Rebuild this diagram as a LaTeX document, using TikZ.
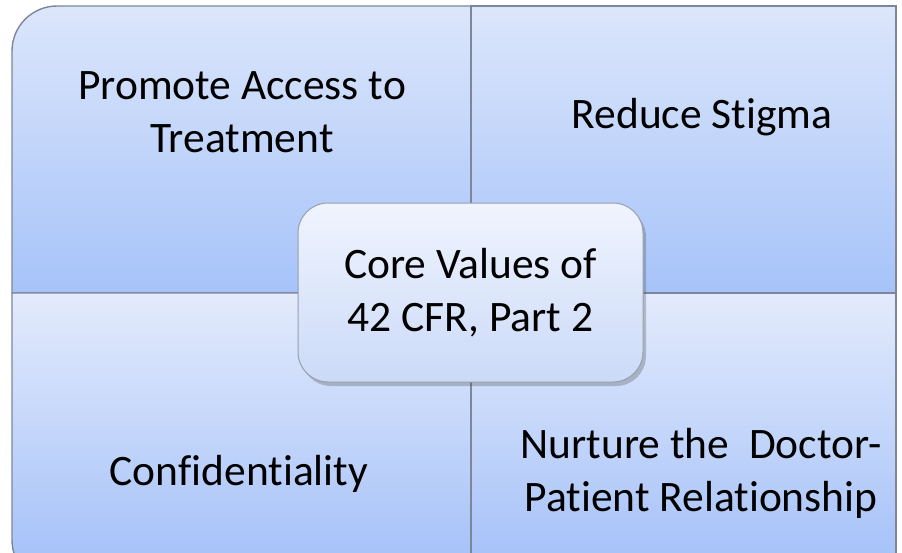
\documentclass[tikz,border=0pt]{standalone}
\usepackage{fontspec}
\setmainfont{Carlito}[Ligatures=CommonOff]
\usetikzlibrary{shadows}
\definecolor{qtoptop}{HTML}{DCE6FB}
\definecolor{qtopbot}{HTML}{A6C3F9}
\definecolor{qbottop}{HTML}{E3EBFC}
\definecolor{qbotbot}{HTML}{A0BEF8}
\definecolor{coretop}{HTML}{F0F4FE}
\definecolor{corebot}{HTML}{CBDAF8}
\definecolor{edgegray}{HTML}{7D8799}
\begin{document}
\begin{tikzpicture}[x=1pt,y=-1pt,
  quadtop/.style={draw=edgegray,line width=1.4pt,top color=qtoptop,bottom color=qtopbot},
  quadbot/.style={draw=edgegray,line width=1.4pt,top color=qbottop,bottom color=qbotbot},
  label/.style={font=\fontsize{43.5}{53}\selectfont,align=center,inner sep=0pt,text=black},
  corebox/.style={draw=edgegray!80,line width=1pt,rounded corners=30pt,
    top color=coretop,bottom color=corebot,minimum width=345pt,minimum height=179pt,
    font=\fontsize{43.5}{53}\selectfont,align=center,
    drop shadow={shadow xshift=3pt,shadow yshift=-4pt,opacity=0.3,fill=black!70}}]
\useasboundingbox (0,0) rectangle (902,552);
\clip (0,0) rectangle (902,552);
% quadrants
\path[quadtop] (12,293) -- (12,51) arc[start angle=180,end angle=270,radius=45] -- (471,6) -- (471,293) -- cycle;
\path[quadtop] (471,293) -- (471,6) -- (896,6) -- (896,293) -- cycle;
\path[quadbot] (12,293) -- (12,540) arc[start angle=180,end angle=90,radius=45] -- (471,585) -- (471,293) -- cycle;
\path[quadbot] (471,293) -- (471,585) -- (896,585) -- (896,293) -- cycle;
% texts
\node[label] (access) at (242,112) {Promote Access to\\Treatment};
\node[label,anchor=base] (stigma) at (702,128) {Reduce Stigma};
\node[label,anchor=base] (conf) at (239,485) {Confidentiality};
\node[label] (nurture) at (701,473) {Nurture the\ \ Doctor-\\Patient Relationship};
% center
\node[corebox] (core) at (470.5,292.5) {Core Values of\\42 CFR, Part 2};
\end{tikzpicture}
\end{document}
